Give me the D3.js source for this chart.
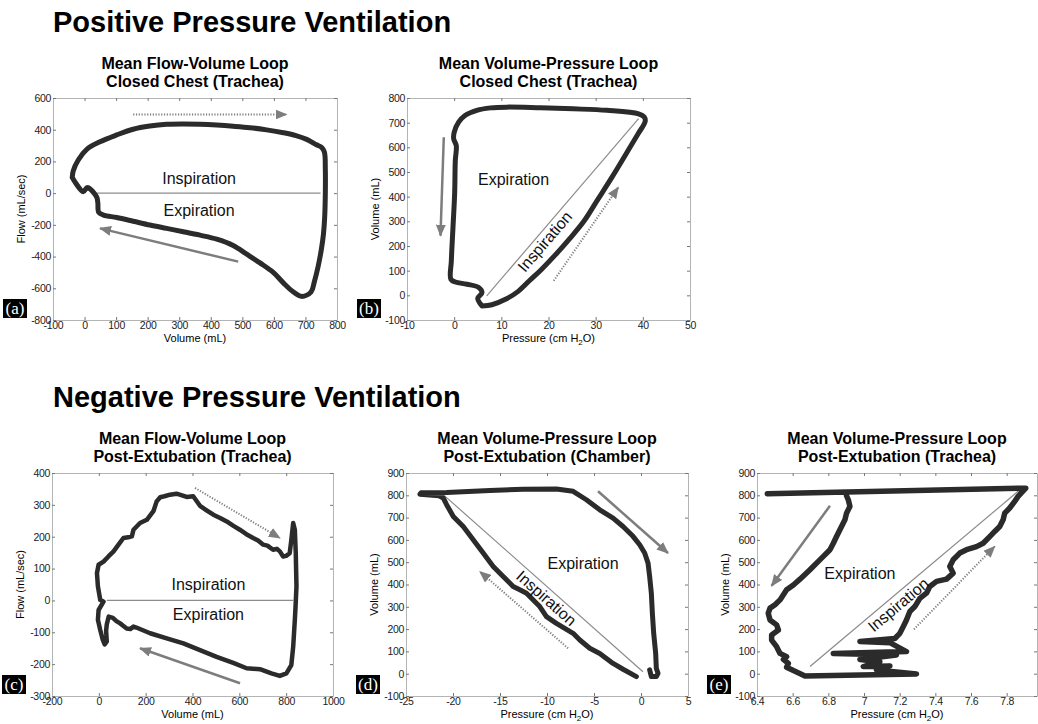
<!DOCTYPE html>
<html>
<head>
<meta charset="utf-8">
<script src="https://cdn.jsdelivr.net/npm/d3@7"></script>
<style>
body { margin: 0; background: #fff; }
svg { font-family: Arial, "Liberation Sans", sans-serif; }
</style>
</head>
<body>
<div id="fig"></div>
<script>
// ---- values ----

// (a) flow-volume loop, positive pressure, trachea  [volume mL, flow mL/sec]
var loopA = [[-39,99],[-36,140],[-20,209],[7,276],[49,324],[102,367],[154,403],[207,423],[260,434],[313,436],
    [366,434],[419,429],[471,422],[524,413],[577,399],[630,381],[670,363],[704,339],[735,305],[751,289],
    [760,260],[763,150],[763,0],[761,-150],[757,-260],[750,-360],[740,-464],[728,-560],[718,-622],[688,-651],
    [660,-620],[630,-566],[598,-500],[556,-440],[514,-385],[471,-330],[419,-290],[366,-265],[313,-243],
    [260,-222],[207,-201],[154,-177],[102,-154],[60,-138],[45,-122],[42,-60],[38,-23],[9,36],[-4,9],[-39,99]];

// (b) volume-pressure loop, positive pressure, trachea  [pressure cmH2O, volume mL]
var loopB = [[5.9,-43],[8,-38],[11,-15],[13.5,15],[16,60],[18.5,105],[21.5,165],[24.5,230],[27.5,300],
    [30.5,390],[33.5,480],[36.5,575],[39,655],[40.5,705],[40.3,723],[39.1,736],[32.4,750],[25.3,756],[18.3,760],
    [11.2,763],[7.7,760],[4.8,750],[2.3,729],[0.95,702],[0,661],[-0.1,634],[0.45,607],[0.24,546],[0.1,411],
    [-0.25,276],[-0.6,140],[-0.7,65],[0.24,54],[2.7,45],[5.2,32],[5.9,11],[5,-12],[5.9,-43]];

// (c) flow-volume loop, negative pressure, post-extubation trachea
var loopC = [[6,2],[-4,44],[-8,86],[-1,112],[20,122],[41,138],[63,154],[84,175],[105,196],[125,198],[141,201],
    [148,222],[176,243],[205,253],[233,280],[247,311],[262,324],[280,327],[304,332],[332,335],[355,330],
    [375,325],[403,327],[432,297],[460,283],[489,269],[520,258],[546,248],[575,234],[602,222],[630,208],
    [659,196],[680,188],[702,175],[720,172],[744,159],[760,162],[773,154],[787,138],[800,140],[815,148],
    [822,190],[830,243],[837,222],[841,148],[844,44],[840,-20],[837,-61],[830,-145],[822,-203],[801,-229],
    [773,-237],[737,-229],[688,-216],[631,-213],[574,-196],[503,-177],[432,-156],[361,-135],[290,-119],
    [219,-103],[160,-85],[148,-82],[135,-90],[119,-88],[105,-80],[91,-72],[75,-65],[60,-55],[42,-51],
    [34,-75],[31,-95],[34,-129],[25,-138],[17,-124],[6,-93],[-4,-61],[-1,-30],[20,-4],[6,2]];

// (d) volume-pressure loop, post-extubation chamber
var loopD = [[-0.49,-13],[-1.91,20],[-2.97,46],[-4.39,91],[-5.45,114],[-6.51,151],[-7.22,181],[-9,226],
    [-10.06,256],[-10.77,301],[-12.18,361],[-12.89,376],[-13.6,391],[-14.66,436],[-15.72,481],[-16.79,541],
    [-17.85,601],[-18.91,660],[-19.97,705],[-20.68,758],[-21.04,788],[-21.5,798],[-23.52,805],[-23.4,811],
    [-20.68,813],[-16.08,822],[-12.54,827],[-9,828],[-7.22,818],[-5.81,780],[-4.39,735],[-2.97,698],
    [-1.91,660],[-0.85,616],[-0.14,578],[0.39,541],[0.75,496],[0.92,436],[1.1,361],[1.21,271],[1.35,181],
    [1.56,92],[1.63,24],[1.81,2],[1.63,-13],[1.1,-13],[0.92,17]];

// (e) volume-pressure loop, post-extubation trachea
var loopE = [[6.458,807],[7.907,832],[7.864,795],[7.845,773],[7.817,743],[7.789,720],[7.78,690],[7.761,660],
    [7.733,638],[7.705,615],[7.668,585],[7.631,570],[7.575,556],[7.537,541],[7.5,511],[7.481,481],[7.5,451],
    [7.463,424],[7.407,414],[7.369,391],[7.35,361],[7.313,338],[7.285,301],[7.257,279],[7.238,241],[7.22,211],
    [7.201,181],[7.173,158],[6.977,144],[7.145,139],[7.238,99],[6.828,91],[7.182,84],[6.977,64],[7.089,54],
    [6.996,32],[7.145,35],[7.07,17],[7.294,-1],[6.669,-10],[6.604,14],[6.566,29],[6.576,46],[6.548,64],
    [6.566,76],[6.529,91],[6.51,121],[6.482,151],[6.482,174],[6.52,196],[6.51,219],[6.473,241],[6.463,271],
    [6.473,294],[6.501,309],[6.529,331],[6.566,376],[6.604,398],[6.641,424],[6.697,466],[6.734,496],
    [6.772,526],[6.809,556],[6.828,585],[6.846,615],[6.874,660],[6.893,690],[6.902,720],[6.921,750],
    [6.912,780],[6.902,798]];

// thin grey reference lines, arrows (start, end) and labels, in data units
var refA = [[38,0],[748,0]], dotA = [[154,496],[640,496]], solidA = [[487,-432],[49,-222]];
var refB = [[6.9,-2],[39.1,716]], dotB = [[21.1,59],[34.8,438]], solidB = [[-2.2,641],[-2.9,242]];
var refC = [[34,0],[830,0]], dotC = [[411,353],[773,196]], solidC = [[603,-260],[176,-150]];
var refD = [[-21.04,803],[0.21,9]], dotD = [[-7.76,114],[-17.14,458]], solidD = [[-4.57,818],[2.87,541]];
var refE = [[6.697,32],[7.864,818]], dotE = [[7.28,199],[7.733,571]], solidE = [[6.809,753],[6.482,394]];

var labelsA = [["Inspiration",363,93,false],["Expiration",363,-106,false]];
var labelsB = [["Expiration",12.6,472,false],["Inspiration",19.2,218,true]];
var labelsC = [["Inspiration",468,49,false],["Expiration",468,-45,false]];
var labelsD = [["Expiration",-6.16,493,false],["Inspiration",-10.06,339,true]];
var labelsE = [["Expiration",6.977,448,false],["Inspiration",7.192,309,true]];

// tick values
var ticksAx = [-100,0,100,200,300,400,500,600,700,800], ticksAy = [-800,-600,-400,-200,0,200,400,600];
var ticksBx = [-10,0,10,20,30,40,50], ticksBy = [-100,0,100,200,300,400,500,600,700,800];
var ticksCx = [-200,0,200,400,600,800,1000], ticksCy = [-300,-200,-100,0,100,200,300,400];
var ticksDx = [-25,-20,-15,-10,-5,0,5], ticksDy = [-100,0,100,200,300,400,500,600,700,800,900];
var ticksEx = [6.4,6.6,6.8,7,7.2,7.4,7.6,7.8], ticksEy = ticksDy;

// ---- drawing ----
var svg = d3.select("#fig")
    .append("svg")
    .attr("width", 1038)
    .attr("height", 724);

svg.append("rect").attr("width", 1038).attr("height", 724).attr("fill", "#fff");

var defs = svg.append("defs");
defs.append("marker")
    .attr("id", "head")
    .attr("markerUnits", "userSpaceOnUse")
    .attr("markerWidth", 13)
    .attr("markerHeight", 10)
    .attr("refX", 11)
    .attr("refY", 5)
    .attr("orient", "auto")
    .append("path")
    .attr("d", "M0,0 L12,5 L0,10 Z")
    .attr("fill", "#7d7d7d");

svg.append("text").attr("x", 53).attr("y", 32)
    .style("font-size", "29px").style("font-weight", "bold")
    .text("Positive Pressure Ventilation");
svg.append("text").attr("x", 53).attr("y", 407)
    .style("font-size", "29px").style("font-weight", "bold")
    .text("Negative Pressure Ventilation");

var pressureLabel = ["Pressure (cm H", "2", "O)"];

var panels = [
    {tag: "a", box: [53, 337, 98, 320], xd: [-100, 800], yd: [-800, 600], xt: ticksAx, yt: ticksAy,
     title: ["Mean Flow-Volume Loop", "Closed Chest (Trachea)"], xl: "Volume (mL)", yl: "Flow (mL/sec)",
     loop: loopA, ref: refA, dot: dotA, solid: solidA, labels: labelsA, smooth: true, w: 5},
    {tag: "b", box: [407, 690, 98, 320], xd: [-10, 50], yd: [-100, 800], xt: ticksBx, yt: ticksBy,
     title: ["Mean Volume-Pressure Loop", "Closed Chest (Trachea)"], xl: pressureLabel, yl: "Volume (mL)",
     loop: loopB, ref: refB, dot: dotB, solid: solidB, labels: labelsB, smooth: true, w: 5},
    {tag: "c", box: [52, 333, 473, 696], xd: [-200, 1000], yd: [-300, 400], xt: ticksCx, yt: ticksCy,
     title: ["Mean Flow-Volume Loop", "Post-Extubation (Trachea)"], xl: "Volume (mL)", yl: "Flow (mL/sec)",
     loop: loopC, ref: refC, dot: dotC, solid: solidC, labels: labelsC, smooth: false, w: 4.5},
    {tag: "d", box: [406, 688, 473, 696], xd: [-25, 5], yd: [-100, 900], xt: ticksDx, yt: ticksDy,
     title: ["Mean Volume-Pressure Loop", "Post-Extubation (Chamber)"], xl: pressureLabel, yl: "Volume (mL)",
     loop: loopD, ref: refD, dot: dotD, solid: solidD, labels: labelsD, smooth: false, w: 5},
    {tag: "e", box: [757, 1037, 473, 696], xd: [6.4, 7.97], yd: [-100, 900], xt: ticksEx, yt: ticksEy,
     title: ["Mean Volume-Pressure Loop", "Post-Extubation (Trachea)"], xl: pressureLabel, yl: "Volume (mL)",
     loop: loopE, ref: refE, dot: dotE, solid: solidE, labels: labelsE, smooth: false, w: 5.5}
];

panels.forEach(drawPanel);

function drawPanel(p) {
    var x0 = p.box[0], x1 = p.box[1], y0 = p.box[2], y1 = p.box[3];
    var x = d3.scaleLinear().domain(p.xd).range([x0, x1]);
    var y = d3.scaleLinear().domain(p.yd).range([y1, y0]);
    var g = svg.append("g");

    // titles
    var cx = (x0 + x1) / 2;
    g.append("text").attr("x", cx).attr("y", y0 - 29).attr("text-anchor", "middle")
        .style("font-size", "16px").style("font-weight", "bold").text(p.title[0]);
    g.append("text").attr("x", cx).attr("y", y0 - 11).attr("text-anchor", "middle")
        .style("font-size", "16px").style("font-weight", "bold").text(p.title[1]);

    // axes with inward ticks on all four sides
    var ax = [
        g.append("g").attr("transform", "translate(0," + y1 + ")")
            .call(d3.axisBottom(x).tickValues(p.xt).tickSize(-3).tickSizeOuter(0).tickPadding(2).tickFormat(String)),
        g.append("g").attr("transform", "translate(0," + y0 + ")")
            .call(d3.axisTop(x).tickValues(p.xt).tickSize(-3).tickSizeOuter(0).tickFormat("")),
        g.append("g").attr("transform", "translate(" + x0 + ",0)")
            .call(d3.axisLeft(y).tickValues(p.yt).tickSize(-3).tickSizeOuter(0).tickPadding(2).tickFormat(String)),
        g.append("g").attr("transform", "translate(" + x1 + ",0)")
            .call(d3.axisRight(y).tickValues(p.yt).tickSize(-3).tickSizeOuter(0).tickFormat(""))
    ];
    ax.forEach(function(a) {
        a.select(".domain").attr("stroke", "#b4b4b4");
        a.selectAll(".tick line").attr("stroke", "#777");
        a.selectAll(".tick text")
            .style("font-family", "Arial, 'Liberation Sans', sans-serif")
            .style("font-size", "10.5px")
            .style("letter-spacing", "-0.3px")
            .attr("fill", "#222");
    });

    // axis titles
    var xt = g.append("text").attr("x", cx).attr("y", y1 + 22).attr("text-anchor", "middle")
        .style("font-size", "11px");
    if (Array.isArray(p.xl)) {
        xt.append("tspan").text(p.xl[0]);
        xt.append("tspan").attr("dy", 3).style("font-size", "8px").text(p.xl[1]);
        xt.append("tspan").attr("dy", -3).text(p.xl[2]);
    } else {
        xt.text(p.xl);
    }
    g.append("text")
        .attr("transform", "translate(" + (x0 - 28) + "," + ((y0 + y1) / 2) + ") rotate(-90)")
        .attr("text-anchor", "middle")
        .style("font-size", "11px")
        .text(p.yl);

    // grey reference line
    g.append("line")
        .attr("x1", x(p.ref[0][0])).attr("y1", y(p.ref[0][1]))
        .attr("x2", x(p.ref[1][0])).attr("y2", y(p.ref[1][1]))
        .attr("stroke", "#8c8c8c").attr("stroke-width", 1.2);

    // loop
    var line = d3.line()
        .x(function(d){return x(d[0])})
        .y(function(d){return y(d[1])})
        .curve(p.smooth ? d3.curveCatmullRom.alpha(0.5) : d3.curveLinear);
    g.append("path")
        .datum(p.loop)
        .attr("d", line)
        .attr("fill", "none")
        .attr("stroke", "#2b2b2b")
        .attr("stroke-width", p.w)
        .attr("stroke-linejoin", "round")
        .attr("stroke-linecap", "round");

    // arrows
    g.append("line")
        .attr("x1", x(p.solid[0][0])).attr("y1", y(p.solid[0][1]))
        .attr("x2", x(p.solid[1][0])).attr("y2", y(p.solid[1][1]))
        .attr("stroke", "#7d7d7d").attr("stroke-width", 2.5)
        .attr("marker-end", "url(#head)");
    g.append("line")
        .attr("x1", x(p.dot[0][0])).attr("y1", y(p.dot[0][1]))
        .attr("x2", x(p.dot[1][0])).attr("y2", y(p.dot[1][1]))
        .attr("stroke", "#7d7d7d").attr("stroke-width", 2)
        .attr("stroke-dasharray", "1.2,1.6")
        .attr("marker-end", "url(#head)");

    // Inspiration / Expiration labels
    var ang = Math.atan2(y(p.ref[1][1]) - y(p.ref[0][1]), x(p.ref[1][0]) - x(p.ref[0][0])) * 180 / Math.PI;
    if (ang > 90) ang -= 180;
    if (ang < -90) ang += 180;
    p.labels.forEach(function(l) {
        var t = g.append("text")
            .attr("text-anchor", "middle")
            .attr("dy", "0.35em")
            .style("font-size", "16px")
            .attr("fill", "#111")
            .text(l[0]);
        var px = x(l[1]), py = y(l[2]);
        if (l[3]) t.attr("transform", "translate(" + px + "," + py + ") rotate(" + ang + ")");
        else t.attr("x", px).attr("y", py);
    });

    // panel letter
    g.append("rect")
        .attr("x", x0 - 50).attr("y", y1 - 21)
        .attr("width", 24).attr("height", 19)
        .attr("fill", "#000");
    g.append("text")
        .attr("x", x0 - 38).attr("y", y1 - 6)
        .attr("text-anchor", "middle")
        .style("font-family", "'Liberation Serif', 'Times New Roman', serif")
        .style("font-size", "17px")
        .attr("fill", "#fff")
        .text("(" + p.tag + ")");
}
</script>
</body>
</html>
